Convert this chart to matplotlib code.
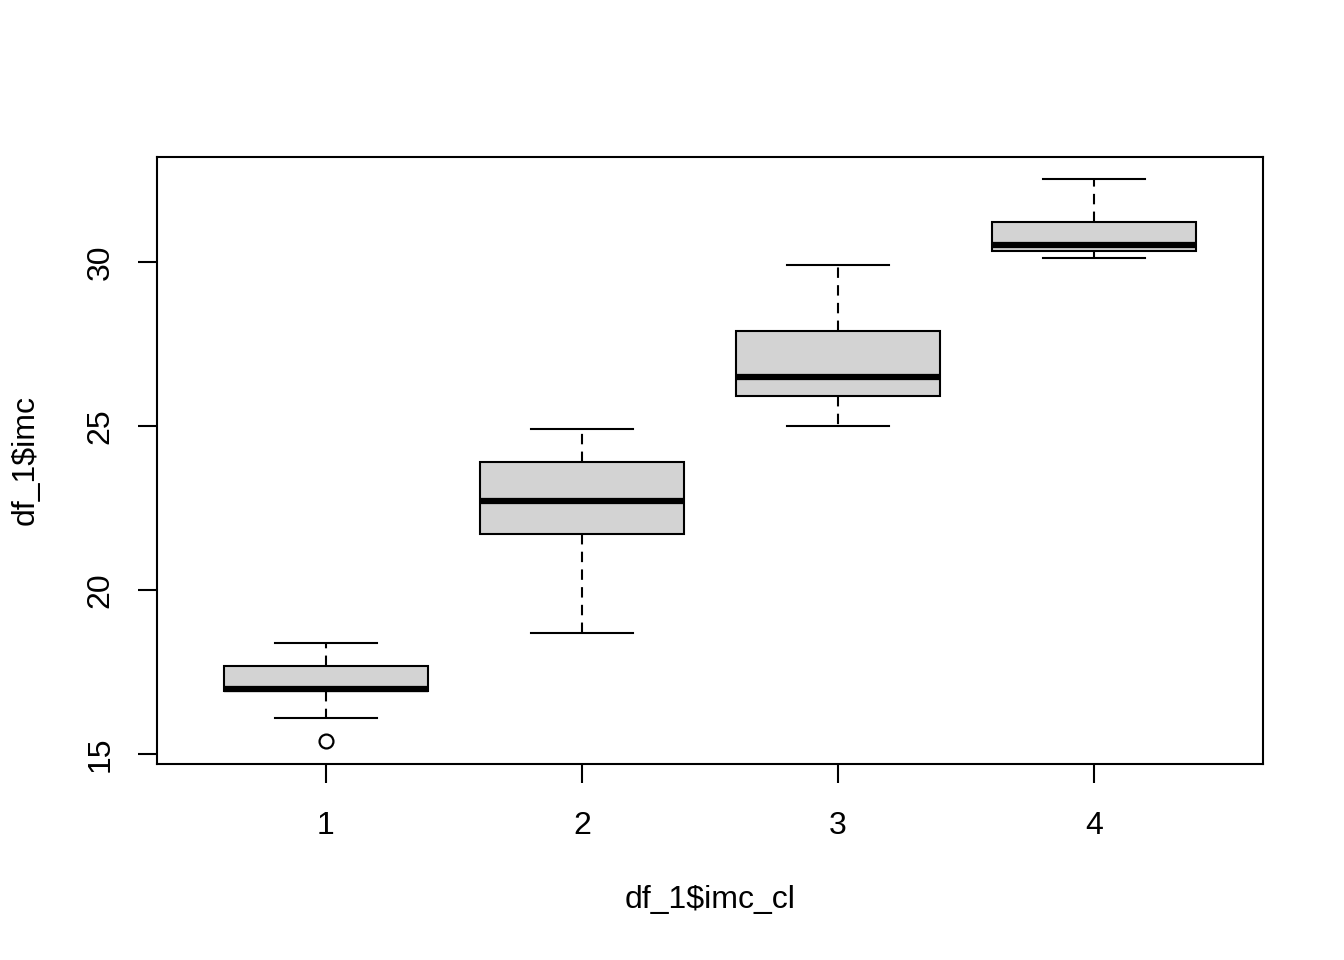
import matplotlib
matplotlib.use("Agg")
import matplotlib.pyplot as plt

plt.rcParams['font.family'] = ['Liberation Sans', 'DejaVu Sans']

categories = ["1", "2", "3", "4"]
whislo = [16.10, 18.69, 25.00, 30.13]
q1 = [16.92, 21.71, 25.91, 30.34]
med = [16.98, 22.71, 26.49, 30.53]
q3 = [17.68, 23.90, 27.90, 31.22]
whishi = [18.38, 24.91, 29.91, 32.53]
fliers = [[15.40], [], [], []]

stats = []
for i, c in enumerate(categories):
    stats.append(dict(label=c, whislo=whislo[i], q1=q1[i], med=med[i],
                      q3=q3[i], whishi=whishi[i], fliers=fliers[i]))

fig = plt.figure(figsize=(13.44, 9.6), dpi=100)
ax = fig.add_axes([157/1344, 1-764/960, (1263-157)/1344, (764-157)/960])

ax.bxp(stats, positions=[1, 2, 3, 4], widths=0.8, patch_artist=True,
       boxprops=dict(facecolor='#d3d3d3', edgecolor='black', linewidth=1.5),
       medianprops=dict(color='black', linewidth=4.5, solid_capstyle='butt'),
       whiskerprops=dict(color='black', linewidth=1.5, linestyle=(0, (5, 3.5))),
       capprops=dict(color='black', linewidth=1.5),
       capwidths=0.4,
       flierprops=dict(marker='o', markerfacecolor='none', markeredgecolor='black',
                       markersize=10, markeredgewidth=1.6))

ax.set_xlim(0.34, 4.66)
ax.set_ylim(14.70, 33.20)
ax.set_xticks([1, 2, 3, 4])
ax.set_xticklabels(categories)
ax.set_yticks([15, 20, 25, 30])
ax.set_yticklabels(["15", "20", "25", "30"], rotation=90, va='center')
for s in ax.spines.values():
    s.set_linewidth(1.5)
ax.tick_params(axis='both', length=14, width=1.5, labelsize=23)
ax.tick_params(axis='x', pad=20)
ax.tick_params(axis='y', pad=16)

fig.text(710/1344, 1-900/960, "df_1$imc_cl", ha='center', va='center', fontsize=23)
fig.text(26/1344, 1-460/960, "df_1$imc", ha='center', va='center', fontsize=23, rotation=90)

fig.savefig("out.png", dpi=100, facecolor='white')
